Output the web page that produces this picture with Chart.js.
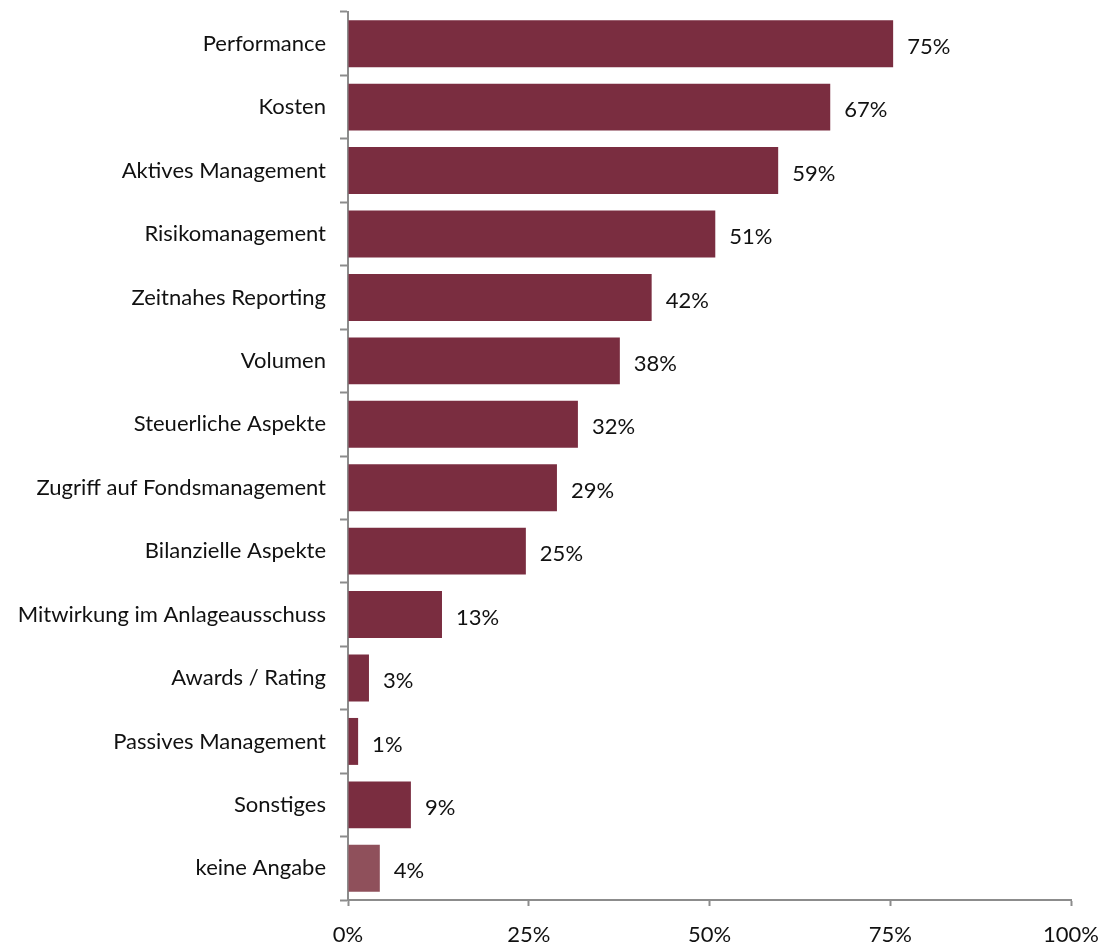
<!DOCTYPE html>
<html>
<head>
<meta charset="utf-8">
<script src="https://cdn.jsdelivr.net/npm/chart.js@4"></script>
<style>
  html, body { margin: 0; padding: 0; background: #fff; }
  #wrap { width: 1107px; height: 946px; }
</style>
</head>
<body>
<div id="wrap"><canvas id="barChart" width="1107" height="946"></canvas></div>
<script>
const categories = [
  "Performance", "Kosten", "Aktives Management", "Risikomanagement",
  "Zeitnahes Reporting", "Volumen", "Steuerliche Aspekte",
  "Zugriff auf Fondsmanagement", "Bilanzielle Aspekte",
  "Mitwirkung im Anlageausschuss", "Awards / Rating",
  "Passives Management", "Sonstiges", "keine Angabe"
];
const values = [75.4, 66.7, 59.5, 50.8, 42.0, 37.6, 31.8, 28.9, 24.6, 13.0, 2.9, 1.4, 8.7, 4.4];
const valueLabels = ["75%", "67%", "59%", "51%", "42%", "38%", "32%", "29%", "25%", "13%", "3%", "1%", "9%", "4%"];
const xTicks = [0, 25, 50, 75, 100];

const mainColor = "#7a2d40";
const lastColor = "#8f505b";
const axisColor = "#8c8c8c";
const fontFamily = "Lato, sans-serif";
const fontSize = 22;

// draws the percentage text next to each bar
const valueLabelPlugin = {
  id: "valueLabels",
  afterDatasetsDraw(chart) {
    const ctx = chart.ctx;
    const meta = chart.getDatasetMeta(0);
    ctx.save();
    ctx.font = fontSize + "px " + fontFamily;
    ctx.fillStyle = "#111";
    ctx.textAlign = "left";
    ctx.textBaseline = "middle";
    meta.data.forEach((bar, i) => {
      ctx.fillText(valueLabels[i], bar.x + 14, bar.y + 3);
    });
    ctx.restore();
  }
};

new Chart(document.getElementById("barChart").getContext("2d"), {
  type: "bar",
  data: {
    labels: categories,
    datasets: [{
      data: values,
      backgroundColor: values.map((v, i) => i === values.length - 1 ? lastColor : mainColor),
      barPercentage: 0.74,
      categoryPercentage: 1
    }]
  },
  options: {
    indexAxis: "y",
    responsive: false,
    animation: false,
    layout: { padding: { top: 12, right: 36, left: 0, bottom: 0 } },
    scales: {
      x: {
        min: 0,
        max: 100,
        afterBuildTicks: scale => { scale.ticks = xTicks.map(v => ({ value: v })); },
        afterFit: scale => {
          scale.height = 46;
          scale.paddingLeft = 0;
          scale.paddingRight = 0;
        },
        border: { color: axisColor, width: 2 },
        grid: { drawOnChartArea: false, drawTicks: true, tickLength: 6, color: axisColor, tickWidth: 2 },
        ticks: {
          callback: v => v + "%",
          color: "#111",
          padding: 16,
          maxRotation: 0,
          font: { family: fontFamily, size: fontSize }
        }
      },
      y: {
        afterFit: scale => {
          scale.width = 348;
          scale.paddingTop = 0;
          scale.paddingBottom = 0;
        },
        border: { color: axisColor, width: 2 },
        grid: { drawOnChartArea: false, drawTicks: true, tickLength: 8, color: axisColor, tickWidth: 2, offset: true },
        ticks: {
          color: "#111",
          padding: 14,
          autoSkip: false,
          font: { family: fontFamily, size: fontSize }
        }
      }
    },
    plugins: {
      legend: { display: false },
      tooltip: { enabled: false }
    }
  },
  plugins: [valueLabelPlugin]
});
</script>
</body>
</html>
